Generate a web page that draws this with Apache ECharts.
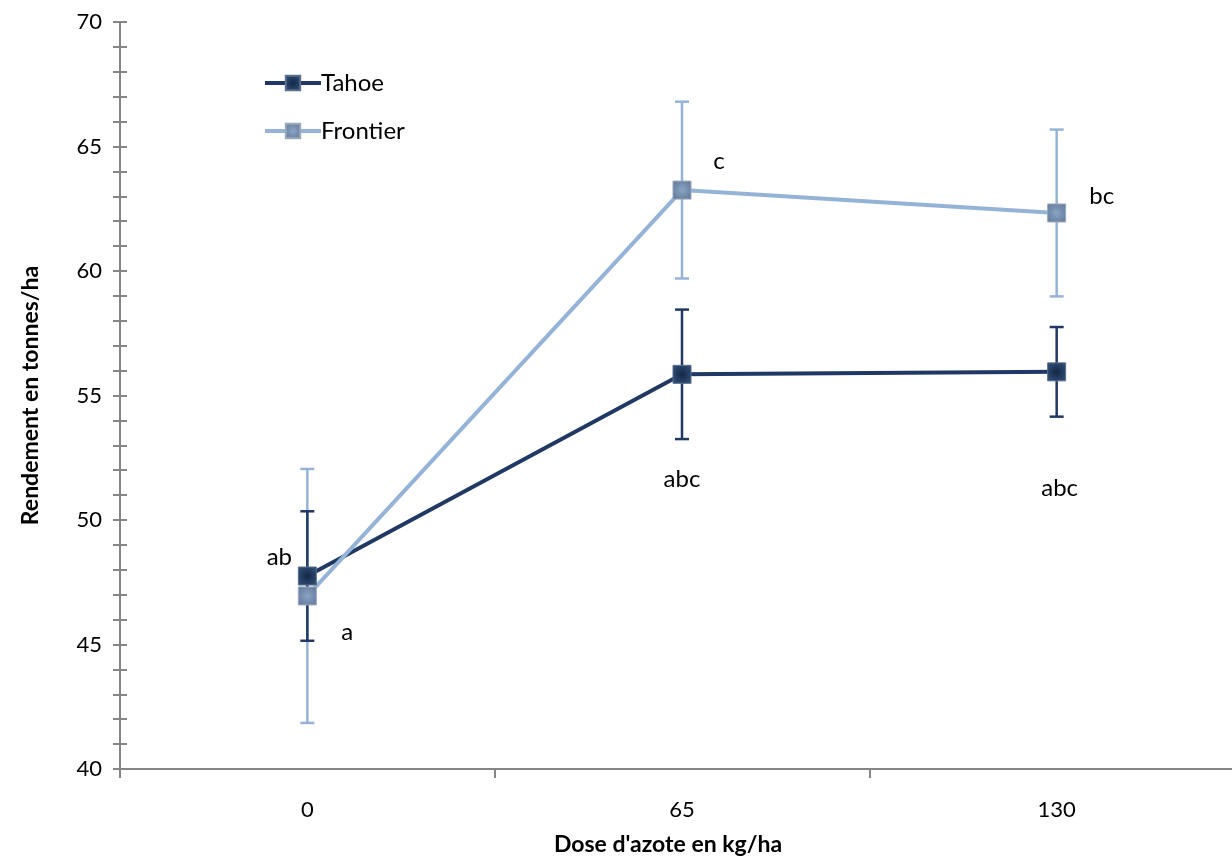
<!DOCTYPE html>
<html>
<head>
<meta charset="utf-8">
<script src="https://cdn.jsdelivr.net/npm/echarts@6/dist/echarts.min.js"></script>
<style>html,body{margin:0;padding:0;background:#fff}#c{width:1232px;height:856px}</style>
</head>
<body>
<div id="c"></div>
<script>
// ---- data ----
const categories = ['0', '65', '130'];
const seriesNames = ['Tahoe', 'Frontier'];
const tahoeMean = [47.75, 55.85, 55.95];
const tahoeErr = [2.6, 2.6, 1.8];
const frontierMean = [46.95, 63.25, 62.33];
const frontierErr = [5.1, 3.55, 3.35];
const tahoeLetters = ['ab', 'abc', 'abc'];
const frontierLetters = ['a', 'c', 'bc'];
const yTicks = {min: 40, max: 70, major: 5, minor: 1};

// ---- styles ----
const FONT = 'Lato';
const tahoeColor = '#1f3864';
const frontierLine = '#95b3d7';
const tahoeOffsets = [[-28, -19], [0, 105], [3, 116]];
const frontierOffsets = [[40, 36], [37, -29], [45, -17]];

function markerFill(center, edge) {
  return {type: 'radial', x: 0.5, y: 0.5, r: 0.7,
    colorStops: [{offset: 0, color: center}, {offset: 1, color: edge}]};
}

function errData(mean, err) {
  return mean.map((m, i) => [i, m - err[i], m + err[i]]);
}
function errSeries(name, mean, err, color) {
  return {
    type: 'custom', name: name + ' err', z: 1, silent: true,
    data: errData(mean, err),
    renderItem: function (params, api) {
      const x = api.value(0);
      const lo = api.coord([x, api.value(1)]);
      const hi = api.coord([x, api.value(2)]);
      const w = 7;
      const st = {stroke: color, lineWidth: 2.5};
      return {type: 'group', children: [
        {type: 'line', shape: {x1: lo[0], y1: lo[1], x2: hi[0], y2: hi[1]}, style: st},
        {type: 'line', shape: {x1: lo[0] - w, y1: lo[1], x2: lo[0] + w, y2: lo[1]}, style: st},
        {type: 'line', shape: {x1: hi[0] - w, y1: hi[1], x2: hi[0] + w, y2: hi[1]}, style: st}
      ]};
    },
    tooltip: {show: false}
  };
}
function lineSeries(name, mean, letters, offsets, lineColor, fill, border) {
  return {
    type: 'line', name: name, z: 3,
    symbol: 'rect', symbolSize: 18,
    lineStyle: {color: lineColor, width: 4},
    itemStyle: {color: fill, borderColor: border, borderWidth: 1},
    data: mean.map((v, i) => ({
      value: v,
      label: {show: true, formatter: letters[i], position: 'inside',
        offset: offsets[i], color: '#000', fontFamily: FONT, fontSize: 24}
    }))
  };
}

const chart = echarts.init(document.getElementById('c'), null, {renderer: 'canvas'});
const axisGray = '#868686';
const yBase = {
  type: 'value', min: yTicks.min, max: yTicks.max, interval: yTicks.minor,
  splitLine: {show: false},
  axisLine: {show: true, lineStyle: {color: axisGray, width: 2}},
  axisTick: {show: true, length: 7, lineStyle: {color: axisGray, width: 2}}
};
chart.setOption({
  animation: false,
  backgroundColor: '#fff',
  grid: {left: 120, top: 22, bottom: 87, right: -12, outerBoundsMode: 'none', containLabel: false},
  legend: {
    orient: 'vertical', left: 258, top: 66, itemGap: 24,
    itemWidth: 56, itemHeight: 18,
    lineStyle: {width: 4},
    textStyle: {fontFamily: FONT, fontSize: 24, color: '#000', padding: [0, 0, 0, -5]},
    data: seriesNames
  },
  xAxis: {
    type: 'category', data: categories, boundaryGap: true,
    axisLine: {lineStyle: {color: axisGray, width: 2}},
    axisTick: {show: true, alignWithLabel: false, length: 9, lineStyle: {color: axisGray, width: 2}},
    axisLabel: {margin: 30, color: '#000', fontFamily: FONT, fontSize: 22},
    name: "Dose d'azote en kg/ha", nameLocation: 'middle', nameGap: 64,
    nameTextStyle: {fontFamily: FONT, fontWeight: 'bold', fontSize: 23, color: '#000',
      padding: [0, 28, 0, 0]}
  },
  yAxis: [
    Object.assign({}, yBase, {
      axisLabel: {margin: 18, color: '#000', fontFamily: FONT, fontSize: 22,
        formatter: v => (v % yTicks.major === 0 ? String(v) : '')},
      name: 'Rendement en tonnes/ha', nameLocation: 'middle', nameGap: 78, nameRotate: 90,
      nameTextStyle: {fontFamily: FONT, fontWeight: 'bold', fontSize: 23, color: '#000'}
    }),
    Object.assign({}, yBase, {
      position: 'left', axisLabel: {show: false},
      axisTick: {show: true, inside: true, length: 7, lineStyle: {color: axisGray, width: 2}}
    })
  ],
  series: [
    errSeries('Frontier', frontierMean, frontierErr, frontierLine),
    errSeries('Tahoe', tahoeMean, tahoeErr, tahoeColor),
    lineSeries('Tahoe', tahoeMean, tahoeLetters, tahoeOffsets, tahoeColor,
      markerFill('#142847', '#36557f'), '#5a6f8c'),
    lineSeries('Frontier', frontierMean, frontierLetters, frontierOffsets, frontierLine,
      markerFill('#8aa3c4', '#5f7594'), '#9aa9bb')
  ]
});
</script>
</body>
</html>
